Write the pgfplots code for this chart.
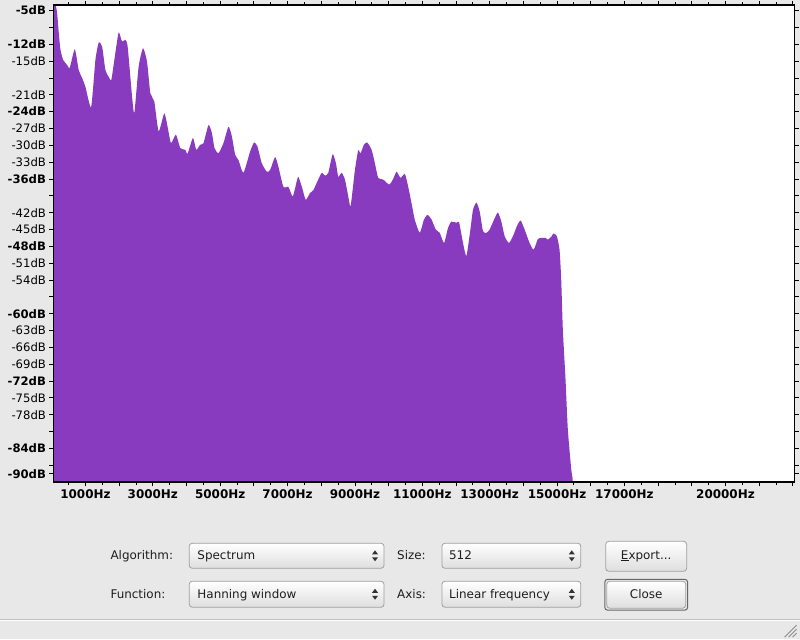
\documentclass[border=0pt]{standalone}
\usepackage{pgfplots}
\pgfplotsset{compat=1.18}
\usepackage{fontspec}
\setmainfont{DejaVu Sans}
\definecolor{spec}{RGB}{137,59,191}
\definecolor{bg}{RGB}{232,232,232}
\definecolor{uitext}{RGB}{30,30,30}
\definecolor{uiborder}{RGB}{160,160,160}
\begin{document}
\begin{tikzpicture}[x=1bp,y=1bp]
\fill[bg] (0,0) rectangle (800,640);
\begin{axis}[
  at={(53bp,157.3bp)}, anchor=south west,
  scale only axis, width=742bp, height=477.7bp,
  xmin=50, xmax=22050, ymin=-90, ymax=-5,
  scaled x ticks=false,
  axis background/.style={fill=white},
  axis line style={black, line width=1.2bp},
  tick style={black, line width=0.8bp},
  tick align=outside,
  axis on top,
  major tick length=4bp, minor tick length=3bp,
  xtick={1000,2000,...,22000},
  minor xtick={500,1500,...,21500},
  xticklabels={1000Hz,{},3000Hz,{},5000Hz,{},7000Hz,{},9000Hz,{},11000Hz,{},13000Hz,{},15000Hz,{},17000Hz,{},{},20000Hz,{},{}},
  ytick={-5.9,-9,-12,-15,-18,-21,-24,-27,-30,-33,-36,-39,-42,-45,-48,-51,-54,-57,-60,-63,-66,-69,-72,-75,-78,-81,-84,-87,-88.5},
  yticklabels={\textbf{-5dB},{},\textbf{-12dB},-15dB,{},-21dB,\textbf{-24dB},-27dB,-30dB,-33dB,\textbf{-36dB},{},-42dB,-45dB,\textbf{-48dB},-51dB,-54dB,{},\textbf{-60dB},-63dB,-66dB,-69dB,\textbf{-72dB},-75dB,-78dB,{},\textbf{-84dB},{},\textbf{-90dB}},
  xticklabel style={font=\fontsize{12}{14}\selectfont\bfseries, text=black},
  yticklabel style={font=\fontsize{11.7}{14}\selectfont, text=black},
]
\addplot[fill=spec, draw=none, smooth, tension=0.35] coordinates {
(50,-100) (50,-5.9) (111,-5.1) (156,-6.2) (209,-10.0) (259,-13.0) (339,-14.8) (458,-15.7) (535,-16.2)
(683,-12.9) (801,-16.6) (902,-18.0) (1000,-19.6) (1169,-23.2) (1296,-14.8) (1394,-11.7) (1495,-12.4)
(1593,-16.6) (1690,-17.8) (1770,-18.3) (1889,-13.5) (1987,-9.9) (2087,-11.5) (2185,-11.2) (2253,-12.4)
(2384,-21.3) (2452,-24.2) (2579,-16.0) (2710,-12.7) (2828,-15.1) (2926,-20.7) (3044,-22.2) (3172,-27.5)
(3341,-24.3) (3439,-26.7) (3539,-29.6) (3687,-28.1) (3815,-30.5) (3963,-30.8) (4031,-31.5) (4191,-28.7)
(4289,-30.8) (4407,-29.9) (4505,-29.6) (4653,-26.4) (4754,-27.8) (4831,-30.5) (4950,-31.4) (5098,-29.6)
(5246,-26.7) (5347,-28.4) (5445,-31.7) (5542,-32.6) (5690,-34.9) (5889,-31.1) (6007,-29.5) (6105,-30.2)
(6236,-33.2) (6384,-34.7) (6482,-34.4) (6630,-32.1) (6728,-33.8) (6876,-37.4) (7024,-37.4) (7154,-39.1)
(7273,-36.4) (7320,-35.6) (7421,-37.3) (7539,-39.7) (7667,-38.5) (7765,-38.0) (7865,-36.7) (8013,-34.9)
(8111,-35.4) (8209,-34.9) (8339,-31.6) (8437,-33.2) (8505,-35.6) (8606,-34.9) (8704,-36.1) (8802,-39.1)
(8873,-40.8) (9000,-34.4) (9098,-30.9) (9169,-31.4) (9267,-29.9) (9365,-29.5) (9495,-30.8) (9593,-33.2)
(9691,-35.8) (9839,-36.1) (10017,-37.0) (10135,-36.0) (10236,-34.7) (10354,-35.8) (10482,-35.1) (10579,-37.3)
(10680,-40.3) (10778,-43.3) (10926,-45.6) (11045,-43.3) (11154,-42.4) (11273,-43.2) (11400,-45.0) (11519,-45.6)
(11646,-47.4) (11765,-44.7) (11865,-43.6) (12014,-43.8) (12091,-43.7) (12209,-47.4) (12310,-49.7) (12428,-45.0)
(12505,-41.5) (12606,-40.2) (12704,-41.8) (12802,-45.3) (12903,-45.6) (13000,-45.0) (13148,-43.0) (13246,-42.0)
(13347,-43.6) (13445,-46.2) (13572,-47.4) (13691,-46.2) (13809,-44.4) (13919,-43.4) (14037,-45.0) (14185,-47.4)
(14304,-48.6) (14431,-46.7) (14532,-46.5) (14659,-46.5) (14728,-46.8) (14828,-46.3) (14897,-45.7) (14994,-46.2)
(15074,-48.6) (15124,-53.9) (15172,-62.8) (15252,-71.7) (15320,-80.6) (15421,-87.7) (15469,-90.0) (15520,-100)
};
\end{axis}
% ---- dialog controls ----
\tikzset{
  combo/.style={draw=uiborder, line width=0.8bp, rounded corners=3bp, top color=white, bottom color={rgb,255:red,222;green,222;blue,222}},
  lbl/.style={font=\fontsize{12}{14}\selectfont, text=uitext, inner sep=0pt},
}
\newcommand{\updown}[2]{%
  \fill[black!80] (#1-3,#2+1.5) -- (#1+3,#2+1.5) -- (#1,#2+5.5) -- cycle;
  \fill[black!80] (#1-3,#2-1.5) -- (#1+3,#2-1.5) -- (#1,#2-5.5) -- cycle;}
\node[lbl, anchor=base west] at (110,80) {Algorithm:};
\node[lbl, anchor=base west] at (110,40.5) {Function:};
\node[lbl, anchor=base west] at (397,80) {Size:};
\node[lbl, anchor=base west] at (397,40.5) {Axis:};
\path[combo] (189,71) rectangle (384,96);
\path[combo] (189,32) rectangle (384,58);
\path[combo] (442,71) rectangle (581,96);
\path[combo] (442,32) rectangle (581,58);
\node[lbl, anchor=base west] at (197,80) {Spectrum};
\node[lbl, anchor=base west] at (197,40.5) {Hanning window};
\node[lbl, anchor=base west] at (449,80) {512};
\node[lbl, anchor=base west] at (449,40.5) {Linear frequency};
\updown{375}{83.5}
\updown{375}{45}
\updown{572}{83.5}
\updown{572}{45}
\path[combo] (606,68) rectangle (687,98);
\node[lbl, anchor=base] at (646.5,80) {\underline{E}xport...};
\draw[black!60, line width=1bp, rounded corners=3bp] (605,29) rectangle (688,60);
\path[combo] (607,31) rectangle (686,58);
\node[lbl, anchor=base] at (646.5,40.5) {Close};
\draw[black!25, line width=1bp] (0,19.5) -- (800,19.5);
\draw[white, line width=1bp] (0,18.5) -- (800,18.5);
\foreach \d in {4,8,12}{\draw[black!45, line width=0.8bp] (797-\d,2) -- (797,2+\d);}
\end{tikzpicture}
\end{document}
